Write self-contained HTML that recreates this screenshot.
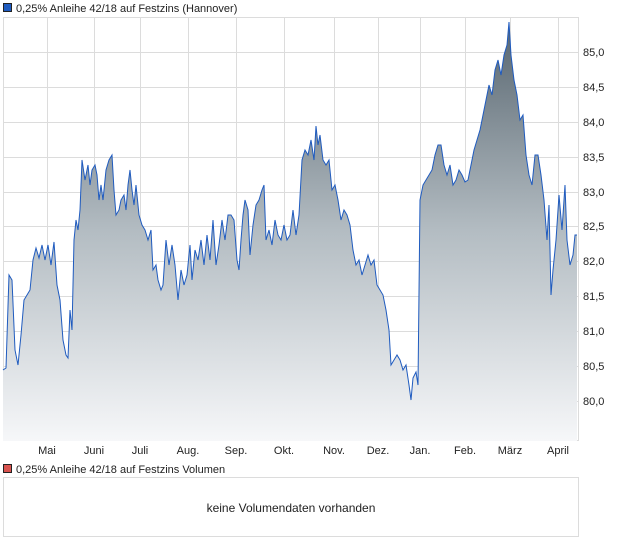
<!DOCTYPE html>
<html><head><meta charset="utf-8"><style>
body{margin:0;background:#fff;width:620px;height:546px;overflow:hidden;font-family:"Liberation Sans",sans-serif;}
</style></head><body>
<svg width="620" height="546" xmlns="http://www.w3.org/2000/svg" font-family="Liberation Sans, sans-serif">
<defs>
<linearGradient id="g" gradientUnits="userSpaceOnUse" x1="0" y1="20" x2="0" y2="441">
<stop offset="0" stop-color="#56646e"/><stop offset="0.5" stop-color="#b3bcc2"/><stop offset="1" stop-color="#f6f7f9"/>
</linearGradient>
</defs>
<rect x="3.5" y="3.5" width="8" height="8" fill="#1f5bbf" stroke="#222" stroke-width="1"/>
<text x="16" y="12" font-size="11" fill="#222">0,25% Anleihe 42/18 auf Festzins (Hannover)</text>
<g stroke="#dcdcdc" stroke-width="1">
<rect x="3.5" y="17.5" width="575" height="423" fill="#fff"/>
<path d="M47.5 17V441M94.5 17V441M140.5 17V441M188.5 17V441M236.5 17V441M284.5 17V441M334.5 17V441M378.5 17V441M420.5 17V441M465.5 17V441M510.5 17V441M558.5 17V441"/>
<path d="M3 52.5H578M3 87.5H578M3 122.5H578M3 157.5H578M3 192.5H578M3 226.5H578M3 261.5H578M3 296.5H578M3 331.5H578M3 366.5H578M3 401.5H578"/>
</g>
<path id="p" fill="url(#g)" stroke="none" d="M3 441 L3 370 6 368 9 275 12 280 15 350 18 365 21 335 24 300 27 295 30 290 33 260 36 248 39 258 42 245 45 260 48 245 51 265 54 242 57 285 60 300 63 340 66 355 68 358 70 310 72 330 74 240 76 220 78 230 80 210 82 160 85 180 88 165 90 185 92 170 95 165 97 175 99 200 101 185 103 200 106 170 109 160 112 155 114 190 116 215 119 210 121 200 124 195 126 210 128 185 130 170 132 190 134 205 136 185 139 215 142 225 145 230 148 240 151 230 153 270 156 265 158 280 161 290 163 285 166 240 169 265 172 245 175 265 178 300 181 270 184 285 187 275 190 245 192 280 195 250 198 260 201 240 204 265 207 235 210 260 213 220 216 265 219 245 222 220 225 240 228 215 231 215 234 220 237 260 239 270 241 240 243 215 245 200 248 210 250 255 253 225 256 205 259 200 262 190 264 185 266 240 269 230 272 245 275 220 278 235 281 240 284 225 287 240 290 235 293 210 296 235 299 215 302 160 305 150 308 155 311 140 314 160 316 126 318 145 320 135 323 160 326 165 329 160 332 190 335 185 338 200 341 220 344 210 347 215 350 225 353 250 356 265 359 260 362 275 365 265 368 255 371 265 374 260 377 285 380 290 383 295 386 310 389 330 391 365 394 360 397 355 400 360 403 370 406 365 409 385 411 400 413 378 416 372 418 385 420 200 423 185 426 180 429 175 432 170 435 155 438 145 441 145 444 165 447 175 450 165 453 185 456 180 459 170 462 175 465 182 468 180 471 165 474 150 477 140 480 130 483 115 486 100 489 85 492 95 495 70 498 60 501 75 504 55 507 45 509 22 511 55 514 80 517 95 520 120 523 115 526 155 529 175 532 185 535 155 538 155 541 175 544 200 547 240 549 205 551 295 553 270 556 240 559 195 562 230 565 185 567 240 570 265 573 255 575 235 577 235 L577 441 Z"/>
<polyline fill="none" stroke="#1f5bbf" stroke-width="1" points="3 370 6 368 9 275 12 280 15 350 18 365 21 335 24 300 27 295 30 290 33 260 36 248 39 258 42 245 45 260 48 245 51 265 54 242 57 285 60 300 63 340 66 355 68 358 70 310 72 330 74 240 76 220 78 230 80 210 82 160 85 180 88 165 90 185 92 170 95 165 97 175 99 200 101 185 103 200 106 170 109 160 112 155 114 190 116 215 119 210 121 200 124 195 126 210 128 185 130 170 132 190 134 205 136 185 139 215 142 225 145 230 148 240 151 230 153 270 156 265 158 280 161 290 163 285 166 240 169 265 172 245 175 265 178 300 181 270 184 285 187 275 190 245 192 280 195 250 198 260 201 240 204 265 207 235 210 260 213 220 216 265 219 245 222 220 225 240 228 215 231 215 234 220 237 260 239 270 241 240 243 215 245 200 248 210 250 255 253 225 256 205 259 200 262 190 264 185 266 240 269 230 272 245 275 220 278 235 281 240 284 225 287 240 290 235 293 210 296 235 299 215 302 160 305 150 308 155 311 140 314 160 316 126 318 145 320 135 323 160 326 165 329 160 332 190 335 185 338 200 341 220 344 210 347 215 350 225 353 250 356 265 359 260 362 275 365 265 368 255 371 265 374 260 377 285 380 290 383 295 386 310 389 330 391 365 394 360 397 355 400 360 403 370 406 365 409 385 411 400 413 378 416 372 418 385 420 200 423 185 426 180 429 175 432 170 435 155 438 145 441 145 444 165 447 175 450 165 453 185 456 180 459 170 462 175 465 182 468 180 471 165 474 150 477 140 480 130 483 115 486 100 489 85 492 95 495 70 498 60 501 75 504 55 507 45 509 22 511 55 514 80 517 95 520 120 523 115 526 155 529 175 532 185 535 155 538 155 541 175 544 200 547 240 549 205 551 295 553 270 556 240 559 195 562 230 565 185 567 240 570 265 573 255 575 235 577 235"/>
<g font-size="11" fill="#222">
<text x="583" y="56">85,0</text><text x="583" y="91">84,5</text><text x="583" y="126">84,0</text><text x="583" y="161">83,5</text><text x="583" y="196">83,0</text><text x="583" y="230">82,5</text><text x="583" y="265">82,0</text><text x="583" y="300">81,5</text><text x="583" y="335">81,0</text><text x="583" y="370">80,5</text><text x="583" y="405">80,0</text>
</g>
<g font-size="11" fill="#222" text-anchor="middle">
<text x="47" y="454">Mai</text><text x="94" y="454">Juni</text><text x="140" y="454">Juli</text><text x="188" y="454">Aug.</text><text x="236" y="454">Sep.</text><text x="284" y="454">Okt.</text><text x="334" y="454">Nov.</text><text x="378" y="454">Dez.</text><text x="420" y="454">Jan.</text><text x="465" y="454">Feb.</text><text x="510" y="454">März</text><text x="558" y="454">April</text>
</g>
<rect x="3.5" y="464.5" width="8" height="8" fill="#d9534f" stroke="#222" stroke-width="1"/>
<text x="16" y="473" font-size="11" fill="#222">0,25% Anleihe 42/18 auf Festzins Volumen</text>
<rect x="3.5" y="477.5" width="575" height="59" fill="#fff" stroke="#dcdcdc"/>
<text x="291" y="512" font-size="12" fill="#222" text-anchor="middle">keine Volumendaten vorhanden</text>
</svg>
</body></html>
